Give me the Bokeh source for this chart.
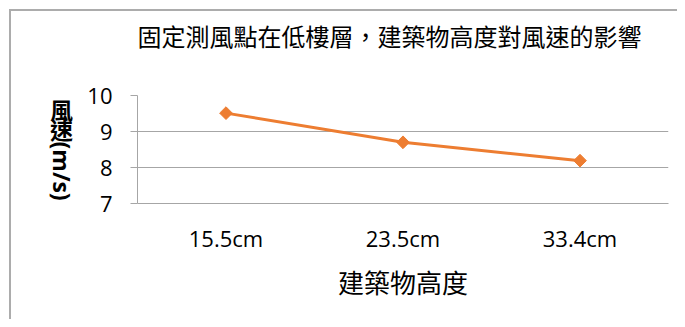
import math
from bokeh.plotting import figure
from bokeh.layouts import row
from bokeh.models import FixedTicker, Title
from bokeh.core.properties import value
from bokeh.embed import file_html
from bokeh.resources import INLINE

# ---- data ----
heights = ["15.5cm", "23.5cm", "33.4cm"]
wind_speed = [9.51, 8.70, 8.19]
y_ticks = [7, 8, 9, 10]
title_text = "固定測風點在低樓層，建築物高度對風速的影響"
x_title = "建築物高度"
y_title_upright = ["風", "速"]
y_title_rotated = ["(m/s)"]

ORANGE = "#ED7D31"
GRID = "#a6a6a6"
CJK = "Noto Sans CJK TC"
LATIN = "Open Sans"
H = 319
W_LEFT = 80
TOP = 95      # frame top (canvas px)
BOTTOM = 203  # frame bottom (canvas px)

# ---- left strip holding the y-axis title (frame aligned with main plot) ----
q = figure(width=W_LEFT, height=H, x_range=(0, W_LEFT),
           y_range=(H - BOTTOM, H - TOP),
           output_backend="svg", toolbar_location=None,
           x_axis_location=None, y_axis_location=None,
           min_border_left=0, min_border_right=0,
           min_border_top=TOP, min_border_bottom=H - BOTTOM)
q.outline_line_color = None
q.background_fill_color = None
q.border_fill_color = None
q.grid.visible = False
q.text(x=[61, 61], y=[H - 108, H - 128], text=y_title_upright,
       text_align="center", text_baseline="middle",
       text_font=value(CJK), text_font_size="23px", text_font_style="bold",
       text_color="black")
q.text(x=[61], y=[H - 141], text=y_title_rotated, angle=-math.pi / 2,
       text_align="left", text_baseline="middle",
       text_font=value(LATIN), text_font_size="23px", text_font_style="bold",
       text_color="black")

# ---- main chart ----
p = figure(width=677 - W_LEFT, height=H, x_range=heights, y_range=(7, 10),
           output_backend="svg", toolbar_location=None,
           min_border_left=137 - W_LEFT, min_border_right=9,
           min_border_top=TOP, min_border_bottom=H - BOTTOM)
p.outline_line_color = None
p.background_fill_color = None
p.border_fill_color = None

p.xgrid.visible = False
p.ygrid.grid_line_color = GRID
p.ygrid.grid_line_width = 1

p.yaxis.ticker = FixedTicker(ticks=y_ticks)
p.yaxis.axis_line_color = GRID
p.yaxis.major_tick_line_color = GRID
p.yaxis.major_tick_out = 7
p.yaxis.major_tick_in = 0
p.yaxis.minor_tick_line_color = None
p.yaxis.major_label_text_font = LATIN
p.yaxis.major_label_text_font_size = "22px"
p.yaxis.major_label_text_color = "black"
p.yaxis.major_label_standoff = 18

p.xaxis.axis_line_color = GRID
p.xaxis.major_tick_line_color = None
p.xaxis.minor_tick_line_color = None
p.xaxis.major_label_text_font = LATIN
p.xaxis.major_label_text_font_size = "22px"
p.xaxis.major_label_text_color = "black"
p.xaxis.major_label_standoff = 13
p.xaxis.axis_label = x_title
p.xaxis.axis_label_text_font = CJK
p.xaxis.axis_label_text_font_size = "26px"
p.xaxis.axis_label_text_font_style = "normal"
p.xaxis.axis_label_text_color = "black"
p.xaxis.axis_label_standoff = 7

p.line(heights, wind_speed, color=ORANGE, line_width=3)
p.scatter(heights, wind_speed, marker="square", angle=math.pi / 4, size=9,
          color=ORANGE)

# spacer (nearest the frame) then the real title above it
p.add_layout(Title(text=" ", text_font_size="2px", standoff=34), "above")
p.add_layout(Title(text=title_text, align="left", offset=0, standoff=10,
                   text_font=CJK, text_font_size="24px",
                   text_font_style="normal", text_color="black"), "above")

layout = row(q, p)
layout.styles = {
    "background": "linear-gradient(#acacac, #acacac) 9px 9px / 2px 100% no-repeat, "
                  "linear-gradient(#acacac, #acacac) 9px 9px / 100% 2px no-repeat, white",
}
open("out.html", "w").write(file_html(layout, INLINE))
